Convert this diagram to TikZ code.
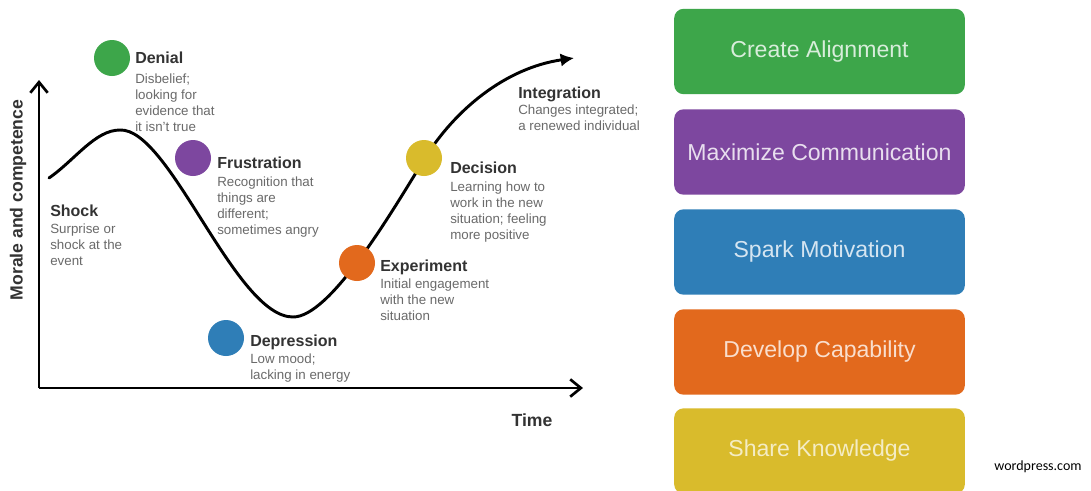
\documentclass[tikz,border=0pt]{standalone}
\usepackage{fontspec}
\setmainfont{Liberation Sans}
\newfontfamily\wpfont{Carlito}
\usetikzlibrary{arrows.meta}

\definecolor{cgreen}{HTML}{3DA64A}
\definecolor{cpurple}{HTML}{7D479F}
\definecolor{cblue}{HTML}{2F7EB7}
\definecolor{corange}{HTML}{E2691D}
\definecolor{cyellow}{HTML}{D9BB2C}
\definecolor{titlegray}{HTML}{333333}
\definecolor{descgray}{HTML}{6A6A6A}

\tikzset{
  axis/.style={line width=2.2pt, -{Straight Barb[length=8pt,width=13pt,line width=2pt]}},
  curve/.style={line width=2.2pt, line cap=round, -{Latex[length=10pt,width=10pt]}},
  stagedot/.style={circle, inner sep=0pt, minimum size=27pt},
  stagetitle/.style={anchor=north west, inner sep=0pt, font=\bfseries\fontsize{12}{14}\selectfont, text=titlegray},
  stagedesc/.style={anchor=north west, inner sep=0pt, align=left, font=\fontsize{10}{12}\selectfont, text=descgray},
  axislabel/.style={inner sep=0pt, font=\bfseries\fontsize{13.2}{15}\selectfont, text=titlegray},
  stepbox/.style={rounded corners=7pt, minimum width=218pt, minimum height=64pt, inner sep=0pt,
                  font=\fontsize{17.3}{20}\selectfont},
}

\begin{document}
\begin{tikzpicture}[x=0.75pt, y=-0.75pt]
  \useasboundingbox[fill=white] (0,0) rectangle (1091,490);

  % ---------- change curve ----------
  \coordinate (origin) at (39,388);
  \coordinate (ytip) at (39,80);
  \coordinate (xtip) at (583,388);
  \draw[axis] (origin) -- (ytip);
  \draw[axis] (origin) -- (xtip);

  \node[axislabel, rotate=90] (ylab) at (18,200) {Morale and competence};
  \node[axislabel] (xlab) at (532,420) {Time};

  \coordinate (start) at (49,178);
  \coordinate (peak) at (120,130);
  \coordinate (low) at (293,317);
  \coordinate (rise) at (425,158);
  \coordinate (finish) at (574,58);
  \draw[curve] (start) .. controls (75,160) and (95,130) .. (peak)
               .. controls (170,128) and (235,317) .. (low)
               .. controls (330,317) and (390,215) .. (rise)
               .. controls (455,110) and (505,68) .. (finish);

  % stage markers
  \node[stagedot, fill=cgreen]  (denial)  at (112,58)  {};
  \node[stagedot, fill=cpurple] (frust)   at (193,158) {};
  \node[stagedot, fill=cblue]   (depr)    at (226,338) {};
  \node[stagedot, fill=corange] (exper)   at (357,263) {};
  \node[stagedot, fill=cyellow] (decis)   at (424,158) {};

  % stage labels
  \node[stagetitle] (shockT) at (50,205) {Shock};
  \node[stagedesc]  (shockD) at (50,224) {Surprise or\\shock at the\\event};

  \node[stagetitle] (denialT) at (135,52) {Denial};
  \node[stagedesc]  (denialD) at (135,74) {Disbelief;\\looking for\\evidence that\\it isn't true};

  \node[stagetitle] (frustT) at (217,157) {Frustration};
  \node[stagedesc]  (frustD) at (217,177) {Recognition that\\things are\\different;\\sometimes angry};

  \node[stagetitle] (deprT) at (250,335) {Depression};
  \node[stagedesc]  (deprD) at (250,354) {Low mood;\\lacking in energy};

  \node[stagetitle] (experT) at (380,260) {Experiment};
  \node[stagedesc]  (experD) at (380,279) {Initial engagement\\with the new\\situation};

  \node[stagetitle] (decisT) at (450,162) {Decision};
  \node[stagedesc]  (decisD) at (450,182) {Learning how to\\work in the new\\situation; feeling\\more positive};

  \node[stagetitle] (integT) at (518,87) {Integration};
  \node[stagedesc]  (integD) at (518,105) {Changes integrated;\\a renewed individual};

  % ---------- action boxes ----------
  \node[stepbox, fill=cgreen,  text=white!80!cgreen]  (b1) at (819.5,51.5)  {Create Alignment};
  \node[stepbox, fill=cpurple, text=white!82!cpurple] (b2) at (819.5,152)   {Maximize Communication};
  \node[stepbox, fill=cblue,   text=white!80!cblue]   (b3) at (819.5,252)   {Spark Motivation};
  \node[stepbox, fill=corange, text=white!78!corange] (b4) at (819.5,352)   {Develop Capability};
  \node[stepbox, fill=cyellow, text=white!72!cyellow] (b5) at (819.5,451)   {Share Knowledge};

  \node[inner sep=0pt, font=\wpfont\fontsize{10.5}{12}\selectfont] (src) at (1038,467) {wordpress.com};
\end{tikzpicture}
\end{document}
